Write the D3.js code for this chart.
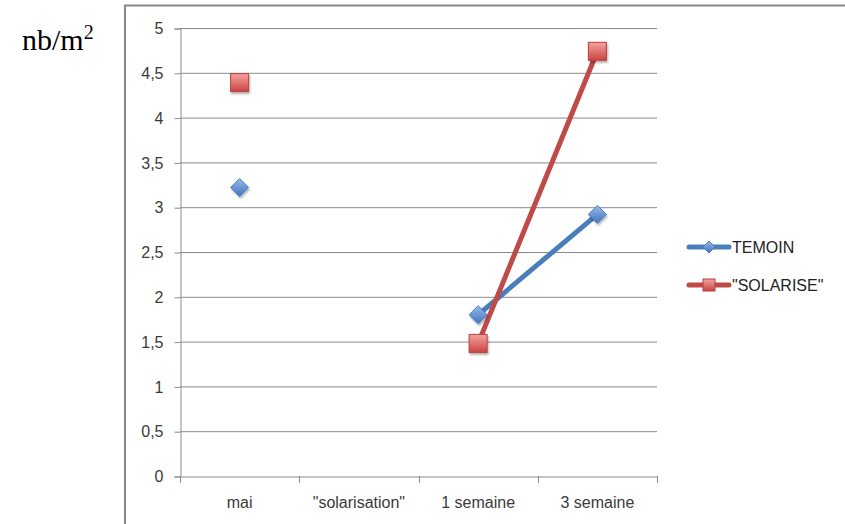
<!DOCTYPE html>
<html><head><meta charset="utf-8">
<script src="https://cdn.jsdelivr.net/npm/d3@7"></script>
<style>body{margin:0;background:#fff;}svg{display:block;}</style>
</head><body>
<script>
const categories = ['mai', '"solarisation"', '1 semaine', '3 semaine'];
const temoin = [3.22, null, 1.8, 2.92];
const solarise = [4.39, null, 1.48, 4.74];
const seriesNames = ['TEMOIN', '"SOLARISE"'];
const yTicks = [0, 0.5, 1, 1.5, 2, 2.5, 3, 3.5, 4, 4.5, 5];

const W = 845, H = 524;
const FONT = '"Liberation Sans", Arial, sans-serif';
const svg = d3.select('body').append('svg').attr('width', W).attr('height', H);
const defs = svg.append('defs');
const gB = defs.append('linearGradient').attr('id','gB').attr('x1',0).attr('y1',0).attr('x2',0).attr('y2',1);
gB.append('stop').attr('offset','0%').attr('stop-color','#9bbbe8');
gB.append('stop').attr('offset','100%').attr('stop-color','#3f73c0');
const gR = defs.append('linearGradient').attr('id','gR').attr('x1',0).attr('y1',0).attr('x2',0).attr('y2',1);
gR.append('stop').attr('offset','0%').attr('stop-color','#f3a3a2');
gR.append('stop').attr('offset','100%').attr('stop-color','#cc4442');
const sh = defs.append('filter').attr('id','sh').attr('x','-50%').attr('y','-50%').attr('width','200%').attr('height','200%');
sh.append('feDropShadow').attr('dx',1).attr('dy',2).attr('stdDeviation',1.2).attr('flood-color','#000').attr('flood-opacity',0.3);

// outer border
svg.append('rect').attr('x',125).attr('y',5.5).attr('width',740).attr('height',540)
  .attr('fill','none').attr('stroke','#878787').attr('stroke-width',2);

const x = d3.scaleBand().domain(categories).range([180, 657]);
const y = d3.scaleLinear().domain([0,5]).range([476, 28]);

// gridlines
svg.append('g').selectAll('line').data(yTicks.filter(d=>d>0)).join('line')
  .attr('x1',180).attr('x2',657).attr('y1',d=>y(d)+0.5).attr('y2',d=>y(d)+0.5)
  .attr('stroke','#8c8c8c').attr('stroke-width',1);

const fmt = d => String(d).replace('.', ',');
const yAxis = svg.append('g').attr('transform','translate(180.5,0.5)')
  .call(d3.axisLeft(y).tickValues(yTicks).tickFormat(fmt).tickSizeOuter(0).tickSize(6).tickPadding(11));
const xAxis = svg.append('g').attr('transform','translate(0,476.5)')
  .call(d3.axisBottom(x).tickSizeOuter(0).tickSize(0).tickPadding(20));
// x ticks at band boundaries
svg.append('g').selectAll('line').data(categories.concat(['end'])).join('line')
  .attr('x1',(d,i)=> Math.round(i<categories.length ? x(d) : x.range()[1])+0.5)
  .attr('x2',(d,i)=> Math.round(i<categories.length ? x(d) : x.range()[1])+0.5)
  .attr('y1',476).attr('y2',483).attr('stroke','#8c8c8c');
[yAxis, xAxis].forEach(a => {
  a.selectAll('path.domain').attr('stroke','#8c8c8c');
  a.selectAll('.tick line').attr('stroke','#8c8c8c');
  a.selectAll('text').attr('font-family', FONT)
    .attr('font-size',16).attr('fill','#3a3a3a');
});

const cx = d => x(d) + x.bandwidth()/2;
const line = d3.line().defined(d => d.v != null).x(d => cx(d.c)).y(d => y(d.v));
const mk = arr => categories.map((c,i)=>({c, v: arr[i]}));

const series = [
  {name: seriesNames[0], data: mk(temoin), color:'#4a7ebb', grad:'url(#gB)', stroke:'#4a7ebb', shape:'diamond'},
  {name: seriesNames[1], data: mk(solarise), color:'#be4b48', grad:'url(#gR)', stroke:'#b8403d', shape:'square'}
];

function marker(g, shape, fill, stroke){
  if (shape === 'diamond') {
    g.append('path').attr('d','M0,-9L9,0L0,9L-9,0Z').attr('fill',fill).attr('stroke',stroke).attr('stroke-width',1).attr('filter','url(#sh)');
  } else {
    g.append('rect').attr('x',-9).attr('y',-9).attr('width',18).attr('height',18).attr('fill',fill).attr('stroke',stroke).attr('stroke-width',1).attr('filter','url(#sh)');
  }
}

series.forEach(s => {
  svg.append('path').datum(s.data).attr('d', line).attr('fill','none')
    .attr('stroke', s.color).attr('stroke-width',5).attr('stroke-linecap','round');
});
series.forEach(s => {
  s.data.filter(d=>d.v!=null).forEach(d => {
    const g = svg.append('g').attr('transform',`translate(${cx(d.c)},${y(d.v)})`);
    marker(g, s.shape, s.grad, s.stroke);
  });
});

// legend
series.forEach((s,i) => {
  const ly = 247 + i*38;
  svg.append('line').attr('x1',689).attr('x2',729).attr('y1',ly).attr('y2',ly)
    .attr('stroke',s.color).attr('stroke-width',5).attr('stroke-linecap','round');
  const g = svg.append('g').attr('transform',`translate(709,${ly})`);
  if (s.shape==='diamond') g.append('path').attr('d','M0,-6L6,0L0,6L-6,0Z').attr('fill',s.grad).attr('stroke',s.stroke);
  else g.append('rect').attr('x',-6).attr('y',-6).attr('width',12).attr('height',12).attr('fill',s.grad).attr('stroke',s.stroke);
  svg.append('text').attr('x',732).attr('y',ly+6).text(s.name)
    .attr('font-family', FONT).attr('font-size',16).attr('fill','#222');
});

// y label
const t = svg.append('text').attr('x',22).attr('y',50)
  .attr('font-family','"Liberation Serif", "Times New Roman", serif').attr('font-size',30).attr('fill','#000');
t.append('tspan').text('nb/m');
t.append('tspan').attr('dy',-11).attr('font-size',20).text('2');
</script>
</body></html>
